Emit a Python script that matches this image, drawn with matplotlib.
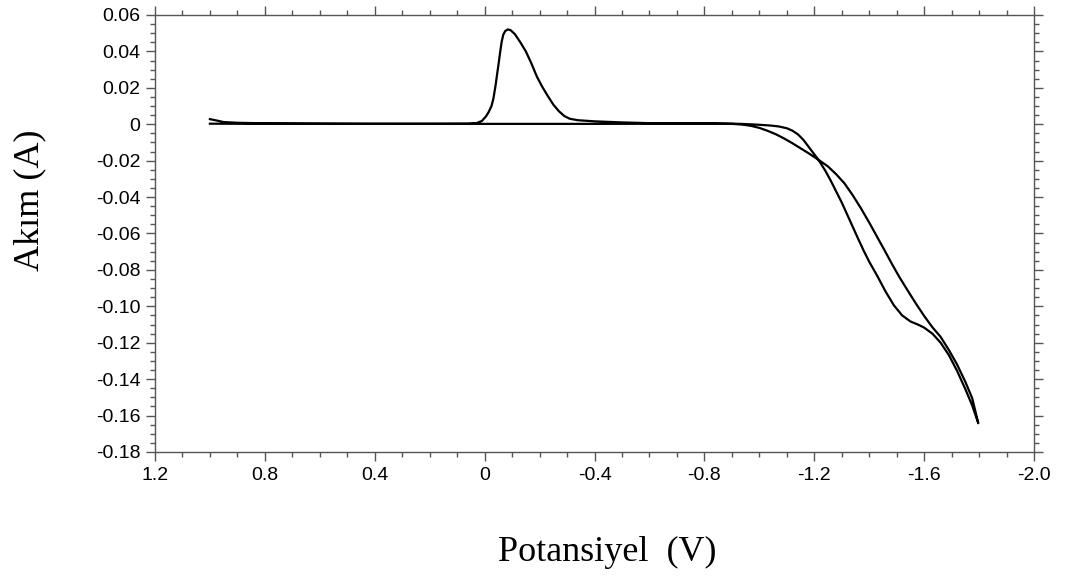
import numpy as np
import matplotlib
matplotlib.use('Agg')
import matplotlib.pyplot as plt
from matplotlib.ticker import MultipleLocator, FixedLocator

# 正向扫描 (1.0 V -> -1.8 V)
fwd_E = [1.00, 0.98, 0.95, 0.90, 0.80, 0.50, 0.20, 0.00, -0.40, -0.80, -0.905,
         -0.95, -1.00, -1.04, -1.07, -1.10, -1.12, -1.14, -1.16, -1.18, -1.20, -1.215,
         -1.24, -1.26, -1.28, -1.30, -1.33, -1.36, -1.38, -1.40, -1.43, -1.46, -1.49,
         -1.52, -1.55, -1.58, -1.60, -1.63, -1.66, -1.69, -1.72, -1.75, -1.775, -1.797]
fwd_I = [0.0028, 0.0022, 0.0012, 0.0008, 0.0005, 0.0003, 0.0002, 0.0002, 0.0002, 0.0003, 0.0003,
         0.0001, -0.0003, -0.0007, -0.0012, -0.0022, -0.0035, -0.0055, -0.0085, -0.0125, -0.0165, -0.0195,
         -0.0255, -0.0310, -0.0370, -0.0430, -0.0530, -0.0630, -0.0695, -0.0755, -0.0835, -0.0920, -0.0995,
         -0.1050, -0.1083, -0.1102, -0.1117, -0.1150, -0.1200, -0.1268, -0.1355, -0.1455, -0.1545, -0.1642]

# 反向扫描 (-1.8 V -> 1.0 V)
rev_E = [-1.797, -1.775, -1.75, -1.72, -1.69, -1.66, -1.63, -1.60, -1.57, -1.54,
         -1.51, -1.48, -1.455, -1.43, -1.40, -1.37, -1.34, -1.31, -1.28, -1.25,
         -1.215, -1.18, -1.15, -1.12, -1.09, -1.06, -1.03, -1.00, -0.97, -0.94,
         -0.90, -0.80, -0.60, -0.50, -0.40, -0.34, -0.31, -0.29, -0.27, -0.25,
         -0.23, -0.21, -0.19, -0.17, -0.15, -0.13, -0.11, -0.095, -0.085, -0.075,
         -0.068, -0.062, -0.056, -0.050, -0.045, -0.040, -0.032, -0.025, -0.015, -0.005,
         0.01, 0.03, 0.06, 0.10, 0.40, 0.80, 1.00]
rev_I = [-0.1642, -0.1505, -0.1415, -0.1320, -0.1240, -0.1168, -0.1115, -0.1053, -0.0985, -0.0913,
         -0.0840, -0.0760, -0.0690, -0.0622, -0.0540, -0.0462, -0.0390, -0.0325, -0.0275, -0.0232,
         -0.0195, -0.0160, -0.0132, -0.0104, -0.0078, -0.0055, -0.0036, -0.0020, -0.0009, -0.0002,
         0.0002, 0.0005, 0.0006, 0.0010, 0.0016, 0.0022, 0.0030, 0.0045, 0.0072, 0.0108,
         0.0155, 0.0205, 0.0262, 0.0335, 0.0400, 0.0450, 0.0495, 0.0516, 0.0521, 0.0512,
         0.0492, 0.0453, 0.0390, 0.0323, 0.0270, 0.0215, 0.0141, 0.0100, 0.0068, 0.0043,
         0.0018, 0.0006, 0.0003, 0.0003, 0.0002, 0.0002, 0.0003]

x_ticks = [1.2, 0.8, 0.4, 0.0, -0.4, -0.8, -1.2, -1.6, -2.0]
x_labels = ['1.2', '0.8', '0.4', '0', '-0.4', '-0.8', '-1.2', '-1.6', '-2.0']
y_ticks = [0.06, 0.04, 0.02, 0.0, -0.02, -0.04, -0.06, -0.08, -0.10, -0.12, -0.14, -0.16, -0.18]
y_labels = ['0.06', '0.04', '0.02', '0', '-0.02', '-0.04', '-0.06', '-0.08', '-0.10',
            '-0.12', '-0.14', '-0.16', '-0.18']

fig = plt.figure(figsize=(10.71, 5.83), dpi=100)
ax = fig.add_axes([0.1447, 0.2247, 0.8208, 0.7496])

E = fwd_E + rev_E[1:]
I = fwd_I + rev_I[1:]
ax.plot(E, I, color='black', linewidth=1.6, solid_joinstyle='round')

ax.set_xlim(1.2, -2.0)
ax.set_ylim(-0.18, 0.06)

ax.xaxis.set_major_locator(FixedLocator(x_ticks))
ax.set_xticklabels(x_labels)
ax.yaxis.set_major_locator(FixedLocator(y_ticks))
ax.set_yticklabels(y_labels)
ax.xaxis.set_minor_locator(MultipleLocator(0.1))
ax.yaxis.set_minor_locator(MultipleLocator(0.005))

spine_col = '#555555'
for s in ax.spines.values():
    s.set_color(spine_col)
    s.set_linewidth(1.0)

ax.tick_params(which='both', direction='out', top=True, right=True,
               color=spine_col, width=1.0)
ax.tick_params(which='major', length=6.5, pad=4, labelsize=14)
ax.tick_params(which='minor', length=3.5)
ax.tick_params(axis='x', which='both', labeltop=False)
ax.tick_params(axis='y', which='both', labelright=False)
for lab in ax.get_xticklabels() + ax.get_yticklabels():
    lab.set_fontfamily('Liberation Sans')

fig.text(607 / 1071, 1 - 552 / 583, 'Potansiyel  (V)', family='Liberation Serif',
         fontsize=26, ha='center', va='center')
fig.text(30 / 1071, 1 - 200 / 583, 'Akım (A)', family='Liberation Serif',
         fontsize=26, ha='center', va='center', rotation=90)

plt.savefig('out.png', dpi=100, facecolor='white')
plt.close()
